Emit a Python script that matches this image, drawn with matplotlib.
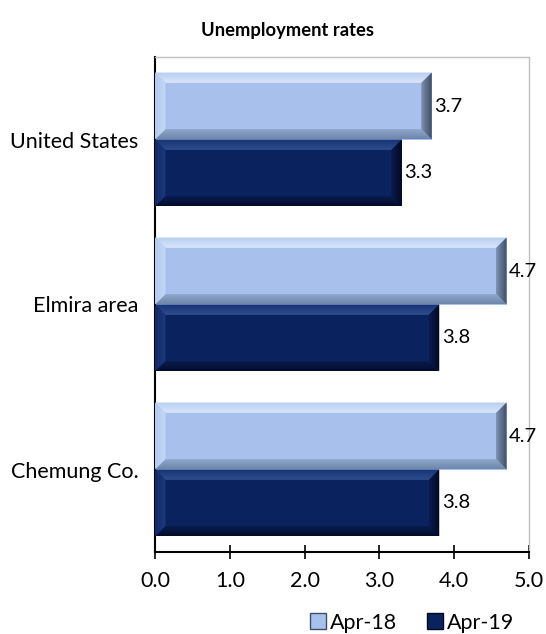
import numpy as np
import matplotlib.pyplot as plt
from matplotlib.patches import Polygon, Patch
from matplotlib.colors import LinearSegmentedColormap

categories = ['United States', 'Elmira area', 'Chemung Co.']
series_names = ['Apr-18', 'Apr-19']
apr18 = [3.7, 4.7, 4.7]
apr19 = [3.3, 3.8, 3.8]

plt.rcParams['font.family'] = ['Lato', 'DejaVu Sans']

# base colour plus (outer, inner) colours for each bevel side
styles = {
    'Apr-18': dict(base='#a7c1ec', top=('#b7cdf1', '#d9e6fa'), bottom=('#6f86ab', '#93aad0'),
                   left=('#b3caf0', '#c4d7f5'), right=('#3f4d66', '#7f91b2')),
    'Apr-19': dict(base='#0a225e', top=('#163272', '#2f4e8e'), bottom=('#030c2a', '#0a1d52'),
                   left=('#12296a', '#1b3a7c'), right=('#020820', '#0a1c50')),
}

fig = plt.figure(figsize=(5.46, 6.34), dpi=100)
ax = fig.add_axes([155 / 546, 1 - 552 / 634, (529 - 155) / 546, (552 - 57) / 634])

h = 0.406
bx = 0.14   # bevel width, data units (x)
by = 0.063  # bevel height, category units


def grad_poly(pts, c_out, c_in, vertical, flip):
    poly = Polygon(pts, closed=True, facecolor='none', edgecolor='none')
    ax.add_patch(poly)
    xs = [p[0] for p in pts]
    ys = [p[1] for p in pts]
    g = np.linspace(0, 1, 64)
    if flip:
        g = g[::-1]
    arr = g.reshape(-1, 1) if vertical else g.reshape(1, -1)
    cmap = LinearSegmentedColormap.from_list('b', [c_out, c_in])
    im = ax.imshow(arr, cmap=cmap, vmin=0, vmax=1, aspect='auto', origin='lower',
                   extent=(min(xs), max(xs), min(ys), max(ys)), zorder=3, interpolation='bilinear')
    im.set_clip_path(poly)


def bevel_bar(y0, w, st):
    y1 = y0 + h
    ax.barh(y0 + h / 2, w, height=h, color=st['base'], edgecolor='none', zorder=2)
    bw = min(bx, w / 2)
    grad_poly([(0, y1), (w, y1), (w - bw, y1 - by), (bw, y1 - by)], *st['top'], True, True)
    grad_poly([(0, y0), (w, y0), (w - bw, y0 + by), (bw, y0 + by)], *st['bottom'], True, False)
    grad_poly([(0, y0), (0, y1), (bw, y1 - by), (bw, y0 + by)], *st['left'], False, False)
    grad_poly([(w, y0), (w, y1), (w - bw, y1 - by), (w - bw, y0 + by)], *st['right'], False, True)
    ax.text(w + 0.035, y0 + h / 2, f'{w:.1f}', va='center', ha='left', fontsize=14.5, color='black', zorder=4)


n = len(categories)
for i, cat in enumerate(categories):
    yc = n - 1 - i
    bevel_bar(yc, apr18[i], styles['Apr-18'])
    bevel_bar(yc - h, apr19[i], styles['Apr-19'])

ax.set_xlim(0, 5)
ax.set_ylim(-0.5, n - 0.5)
ax.set_xticks(np.arange(0, 5.01, 1.0))
ax.set_xticklabels([f'{v:.1f}' for v in np.arange(0, 5.01, 1.0)], fontsize=15.5)
ax.set_yticks([n - 1 - i for i in range(n)])
ax.set_yticklabels(categories, fontsize=15.5)
ax.tick_params(axis='y', length=0, pad=12)
ax.tick_params(axis='x', direction='inout', length=10, width=1.2, pad=9)

for s in ['left', 'bottom']:
    ax.spines[s].set_color('black')
    ax.spines[s].set_linewidth(1.5)
for s in ['top', 'right']:
    ax.spines[s].set_color('#c0c0c0')
    ax.spines[s].set_linewidth(1.0)

fig.text(0.527, 0.952, 'Unemployment rates', ha='center', va='center', fontsize=13.2, fontweight='bold')

handles = [Patch(facecolor=styles[s]['base'], edgecolor=styles[s]['right'][0], label=s) for s in series_names]
fig.legend(handles=handles, loc='center', bbox_to_anchor=(0.755, 0.018), ncol=2, frameon=False,
           fontsize=15.5, handlelength=0.72, handleheight=0.72, handletextpad=0.2, columnspacing=1.4)

fig.savefig('out.png', dpi=100)
